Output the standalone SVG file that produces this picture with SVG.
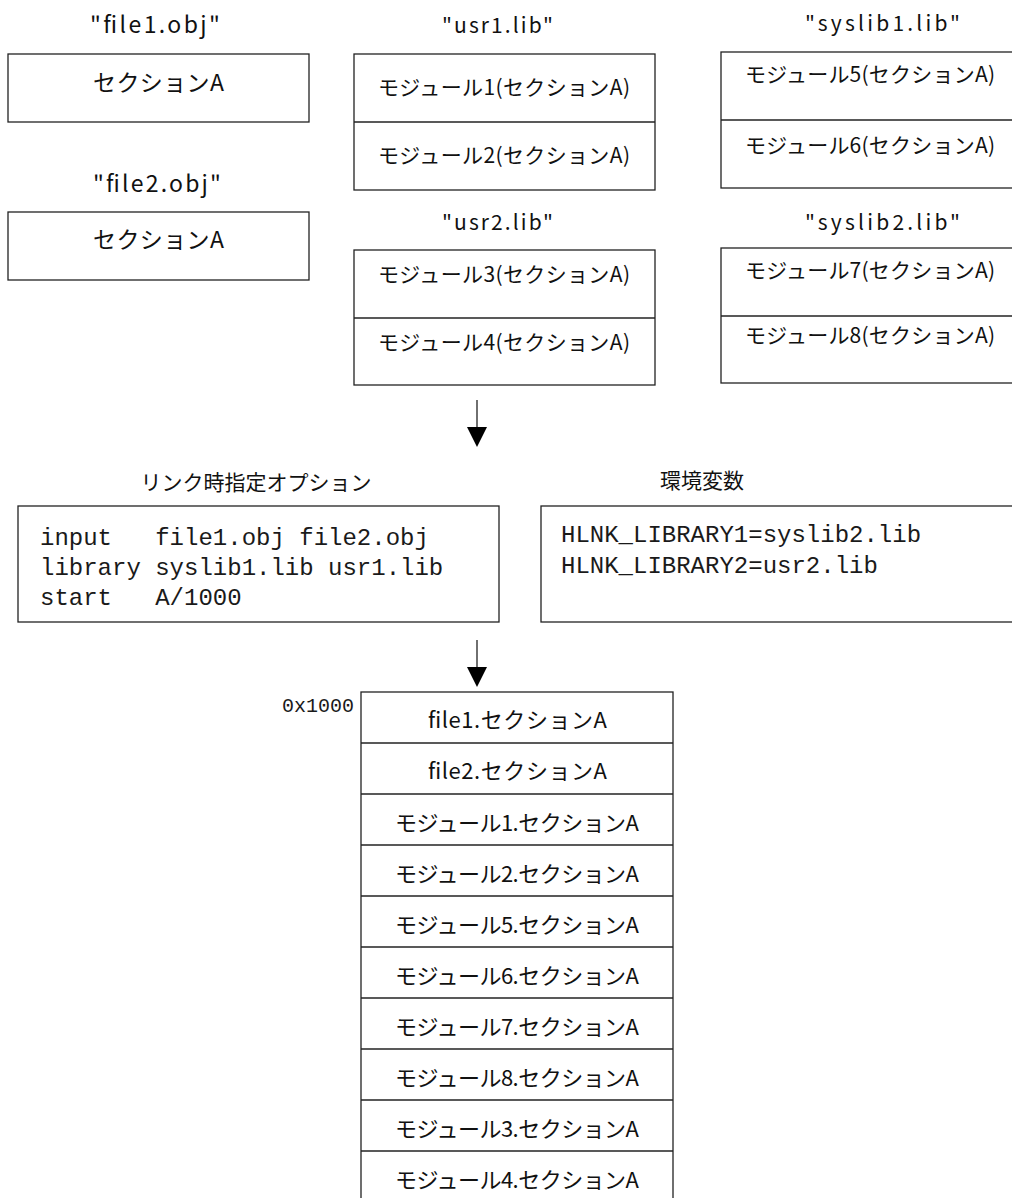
<svg xmlns="http://www.w3.org/2000/svg" width="1012" height="1198" viewBox="0 0 1012 1198">
<style>
  .bx { fill: #fff; stroke: #222; stroke-width: 1.3; }
  .dv { stroke: #222; stroke-width: 1.3; }
  .jp { font-family: "Noto Sans CJK JP", "Noto Sans", sans-serif; fill: #111; }
  .big { font-size: 23px; }
  .md { font-size: 21px; }
  .st { font-size: 22px; }
  .mono { font-family: "Liberation Mono", "DejaVu Sans Mono", monospace; fill: #1a1a1a; font-size: 24px; }
  .conn { stroke: #222; stroke-width: 1.3; fill: none; }
  .head { fill: #000; }
</style>
<rect width="1012" height="1198" fill="#fff"/>

<g id="file1">
  <text class="jp big" x="90" y="33" textLength="130" lengthAdjust="spacing">"file1.obj"</text>
  <rect class="bx" x="8" y="54" width="301" height="68"/>
  <text class="jp big" x="93" y="91" textLength="131" lengthAdjust="spacing">セクションA</text>
</g>
<g id="file2">
  <text class="jp big" x="93" y="192" textLength="128" lengthAdjust="spacing">"file2.obj"</text>
  <rect class="bx" x="8" y="212" width="301" height="68"/>
  <text class="jp big" x="93" y="248" textLength="131" lengthAdjust="spacing">セクションA</text>
</g>

<g id="usr1">
  <text class="jp md" x="442" y="33" textLength="111" lengthAdjust="spacing">"usr1.lib"</text>
  <rect class="bx" x="354" y="54" width="301" height="136"/>
  <line class="dv" x1="354" y1="122" x2="655" y2="122"/>
  <text class="jp md" x="378" y="95" textLength="252" lengthAdjust="spacing">モジュール1(セクションA)</text>
  <text class="jp md" x="378" y="163" textLength="252" lengthAdjust="spacing">モジュール2(セクションA)</text>
</g>
<g id="usr2">
  <text class="jp md" x="442" y="230" textLength="111" lengthAdjust="spacing">"usr2.lib"</text>
  <rect class="bx" x="354" y="250" width="301" height="135"/>
  <line class="dv" x1="354" y1="318" x2="655" y2="318"/>
  <text class="jp md" x="378" y="282" textLength="252" lengthAdjust="spacing">モジュール3(セクションA)</text>
  <text class="jp md" x="378" y="350" textLength="252" lengthAdjust="spacing">モジュール4(セクションA)</text>
</g>

<g id="syslib1">
  <text class="jp md" x="805" y="31" textLength="155" lengthAdjust="spacing">"syslib1.lib"</text>
  <rect class="bx" x="721" y="52" width="310" height="136"/>
  <line class="dv" x1="721" y1="120" x2="1012" y2="120"/>
  <text class="jp md" x="745" y="82" textLength="250" lengthAdjust="spacing">モジュール5(セクションA)</text>
  <text class="jp md" x="745" y="153" textLength="250" lengthAdjust="spacing">モジュール6(セクションA)</text>
</g>
<g id="syslib2">
  <text class="jp md" x="805" y="230" textLength="155" lengthAdjust="spacing">"syslib2.lib"</text>
  <rect class="bx" x="721" y="248" width="310" height="135"/>
  <line class="dv" x1="721" y1="316" x2="1012" y2="316"/>
  <text class="jp md" x="745" y="278" textLength="250" lengthAdjust="spacing">モジュール7(セクションA)</text>
  <text class="jp md" x="745" y="343" textLength="250" lengthAdjust="spacing">モジュール8(セクションA)</text>
</g>

<g id="options">
  <text class="jp md" x="256" y="490" text-anchor="middle">リンク時指定オプション</text>
  <rect class="bx" x="18" y="506" width="481" height="116"/>
  <text class="mono" x="40" y="545" xml:space="preserve">input   file1.obj file2.obj</text>
  <text class="mono" x="40" y="575" xml:space="preserve">library syslib1.lib usr1.lib</text>
  <text class="mono" x="40" y="605" xml:space="preserve">start   A/1000</text>
</g>

<g id="env">
  <text class="jp md" x="702" y="488" text-anchor="middle">環境変数</text>
  <rect class="bx" x="541" y="506" width="480" height="116"/>
  <text class="mono" x="561" y="542">HLNK_LIBRARY1=syslib2.lib</text>
  <text class="mono" x="561" y="573">HLNK_LIBRARY2=usr2.lib</text>
</g>

<g id="memory">
  <text class="mono" x="282" y="712" style="font-size:20px">0x1000</text>
  <rect class="bx" x="361" y="692" width="312" height="520"/>
  <line class="dv" x1="361" y1="743" x2="673" y2="743"/>
  <line class="dv" x1="361" y1="794" x2="673" y2="794"/>
  <line class="dv" x1="361" y1="845" x2="673" y2="845"/>
  <line class="dv" x1="361" y1="896" x2="673" y2="896"/>
  <line class="dv" x1="361" y1="947" x2="673" y2="947"/>
  <line class="dv" x1="361" y1="998" x2="673" y2="998"/>
  <line class="dv" x1="361" y1="1049" x2="673" y2="1049"/>
  <line class="dv" x1="361" y1="1100" x2="673" y2="1100"/>
  <line class="dv" x1="361" y1="1151" x2="673" y2="1151"/>
  <text class="jp st" x="428" y="728" textLength="179" lengthAdjust="spacing">file1.セクションA</text>
  <text class="jp st" x="428" y="779" textLength="179" lengthAdjust="spacing">file2.セクションA</text>
  <text class="jp st" x="395" y="831" textLength="244" lengthAdjust="spacing">モジュール1.セクションA</text>
  <text class="jp st" x="395" y="882" textLength="244" lengthAdjust="spacing">モジュール2.セクションA</text>
  <text class="jp st" x="395" y="933" textLength="244" lengthAdjust="spacing">モジュール5.セクションA</text>
  <text class="jp st" x="395" y="984" textLength="244" lengthAdjust="spacing">モジュール6.セクションA</text>
  <text class="jp st" x="395" y="1035" textLength="244" lengthAdjust="spacing">モジュール7.セクションA</text>
  <text class="jp st" x="395" y="1086" textLength="244" lengthAdjust="spacing">モジュール8.セクションA</text>
  <text class="jp st" x="395" y="1137" textLength="244" lengthAdjust="spacing">モジュール3.セクションA</text>
  <text class="jp st" x="395" y="1188" textLength="244" lengthAdjust="spacing">モジュール4.セクションA</text>
</g>

<g id="connectors">
  <line class="conn" x1="477" y1="400" x2="477" y2="428"/>
  <polygon class="head" points="467,427 487,427 477,447"/>
  <line class="conn" x1="477" y1="640" x2="477" y2="668"/>
  <polygon class="head" points="467,667 487,667 477,687"/>
</g>
</svg>
